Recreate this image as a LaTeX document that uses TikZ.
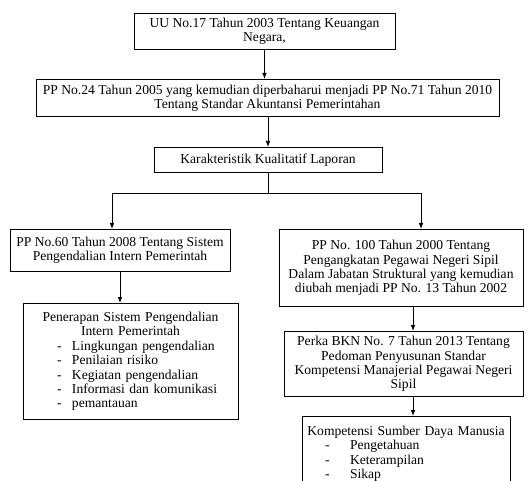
\documentclass[tikz,border=0pt]{standalone}
\usepackage{fontspec}
\setmainfont{Liberation Serif}
\usetikzlibrary{arrows.meta}
\tikzset{every picture/.style={line width=0.75pt}}
\tikzset{
  lawbox/.style={draw, rectangle, align=center, inner sep=0.75pt, anchor=north,
    font=\fontsize{10.2}{10.8}\selectfont},
  flowarrow/.style={-{Latex[length=4.5pt,width=3.5pt]}}
}
\newcommand{\listitem}[3]{\hspace*{#1}\makebox[#2][l]{-}#3}

\begin{document}
\begin{tikzpicture}[x=0.75pt,y=0.75pt,yscale=-1,xscale=1]
\useasboundingbox (0,0) rectangle (532,481);

% Text Node
\node [lawbox, minimum width=195.75pt, minimum height=27pt] (uu) at (264.5,13) {UU No.17 Tahun 2003 Tentang Keuangan\\Negara,};
% Text Node
\node [lawbox, minimum width=347.25pt, minimum height=27.75pt] (sap) at (267.5,79) {PP No.24 Tahun 2005 yang kemudian diperbaharui menjadi PP No.71 Tahun 2010\\Tentang Standar Akuntansi Pemerintahan};
% Text Node
\node [lawbox, minimum width=171pt, minimum height=18.75pt] (kualitatif) at (268,147) {Karakteristik Kualitatif Laporan};
% Text Node
\node [lawbox, minimum width=165pt, minimum height=31.5pt] (spip) at (120,229) {PP No.60 Tahun 2008 Tentang Sistem\\Pengendalian Intern Pemerintah};
% Text Node
\node [lawbox, minimum width=183pt, minimum height=57.75pt] (pns) at (401,229) {PP No. 100 Tahun 2000 Tentang\\Pengangkatan Pegawai Negeri Sipil\\Dalam Jabatan Struktural yang kemudian\\diubah menjadi PP No. 13 Tahun 2002};
% Text Node
\node [lawbox, align=left, inner xsep=0pt, text width=161.25pt, minimum height=87pt] (penerapan) at (130.5,303) {{\centering Penerapan Sistem Pengendalian\\Intern Pemerintah\par}
\listitem{25.5pt}{11.25pt}{Lingkungan pengendalian}\\
\listitem{25.5pt}{11.25pt}{Penilaian risiko}\\
\listitem{25.5pt}{11.25pt}{Kegiatan pengendalian}\\
\listitem{25.5pt}{11.25pt}{Informasi dan komunikasi}\\
\listitem{25.5pt}{11.25pt}{pemantauan}};
% Text Node
\node [lawbox, minimum width=179.25pt, minimum height=48.75pt] (bkn) at (403.5,331) {Perka BKN No. 7 Tahun 2013 Tentang\\Pedoman Penyusunan Standar\\Kompetensi Manajerial Pegawai Negeri\\Sipil};
% Text Node
\node [lawbox, align=left, inner xsep=0pt, inner ysep=7pt, text width=156pt] (sdm) at (406,416) {{\centering Kompetensi Sumber Daya Manusia\par}
\listitem{17.25pt}{18.75pt}{Pengetahuan}\\
\listitem{17.25pt}{18.75pt}{Keterampilan}\\
\listitem{17.25pt}{18.75pt}{Sikap}};

%Straight Lines
\draw [flowarrow] (uu.south) -- (uu.south |- sap.north);
%Straight Lines
\draw [flowarrow] (kualitatif.north |- sap.south) -- (kualitatif.north);
%Straight Lines
\draw (kualitatif.south) -- ++(0,21) coordinate (split);
\draw [flowarrow] (split) -| ([xshift=-6pt]spip.north);
\draw [flowarrow] (split) -| ([xshift=15pt]pns.north);
%Straight Lines
\draw [flowarrow] (spip.south) -- (spip.south |- penerapan.north);
%Straight Lines
\draw [flowarrow] ([xshift=9pt]pns.south) -- ([xshift=9pt]pns.south |- bkn.north);
%Straight Lines
\draw [flowarrow] ([xshift=5.25pt]sdm.north |- bkn.south) -- ([xshift=5.25pt]sdm.north);

\end{tikzpicture}
\end{document}
